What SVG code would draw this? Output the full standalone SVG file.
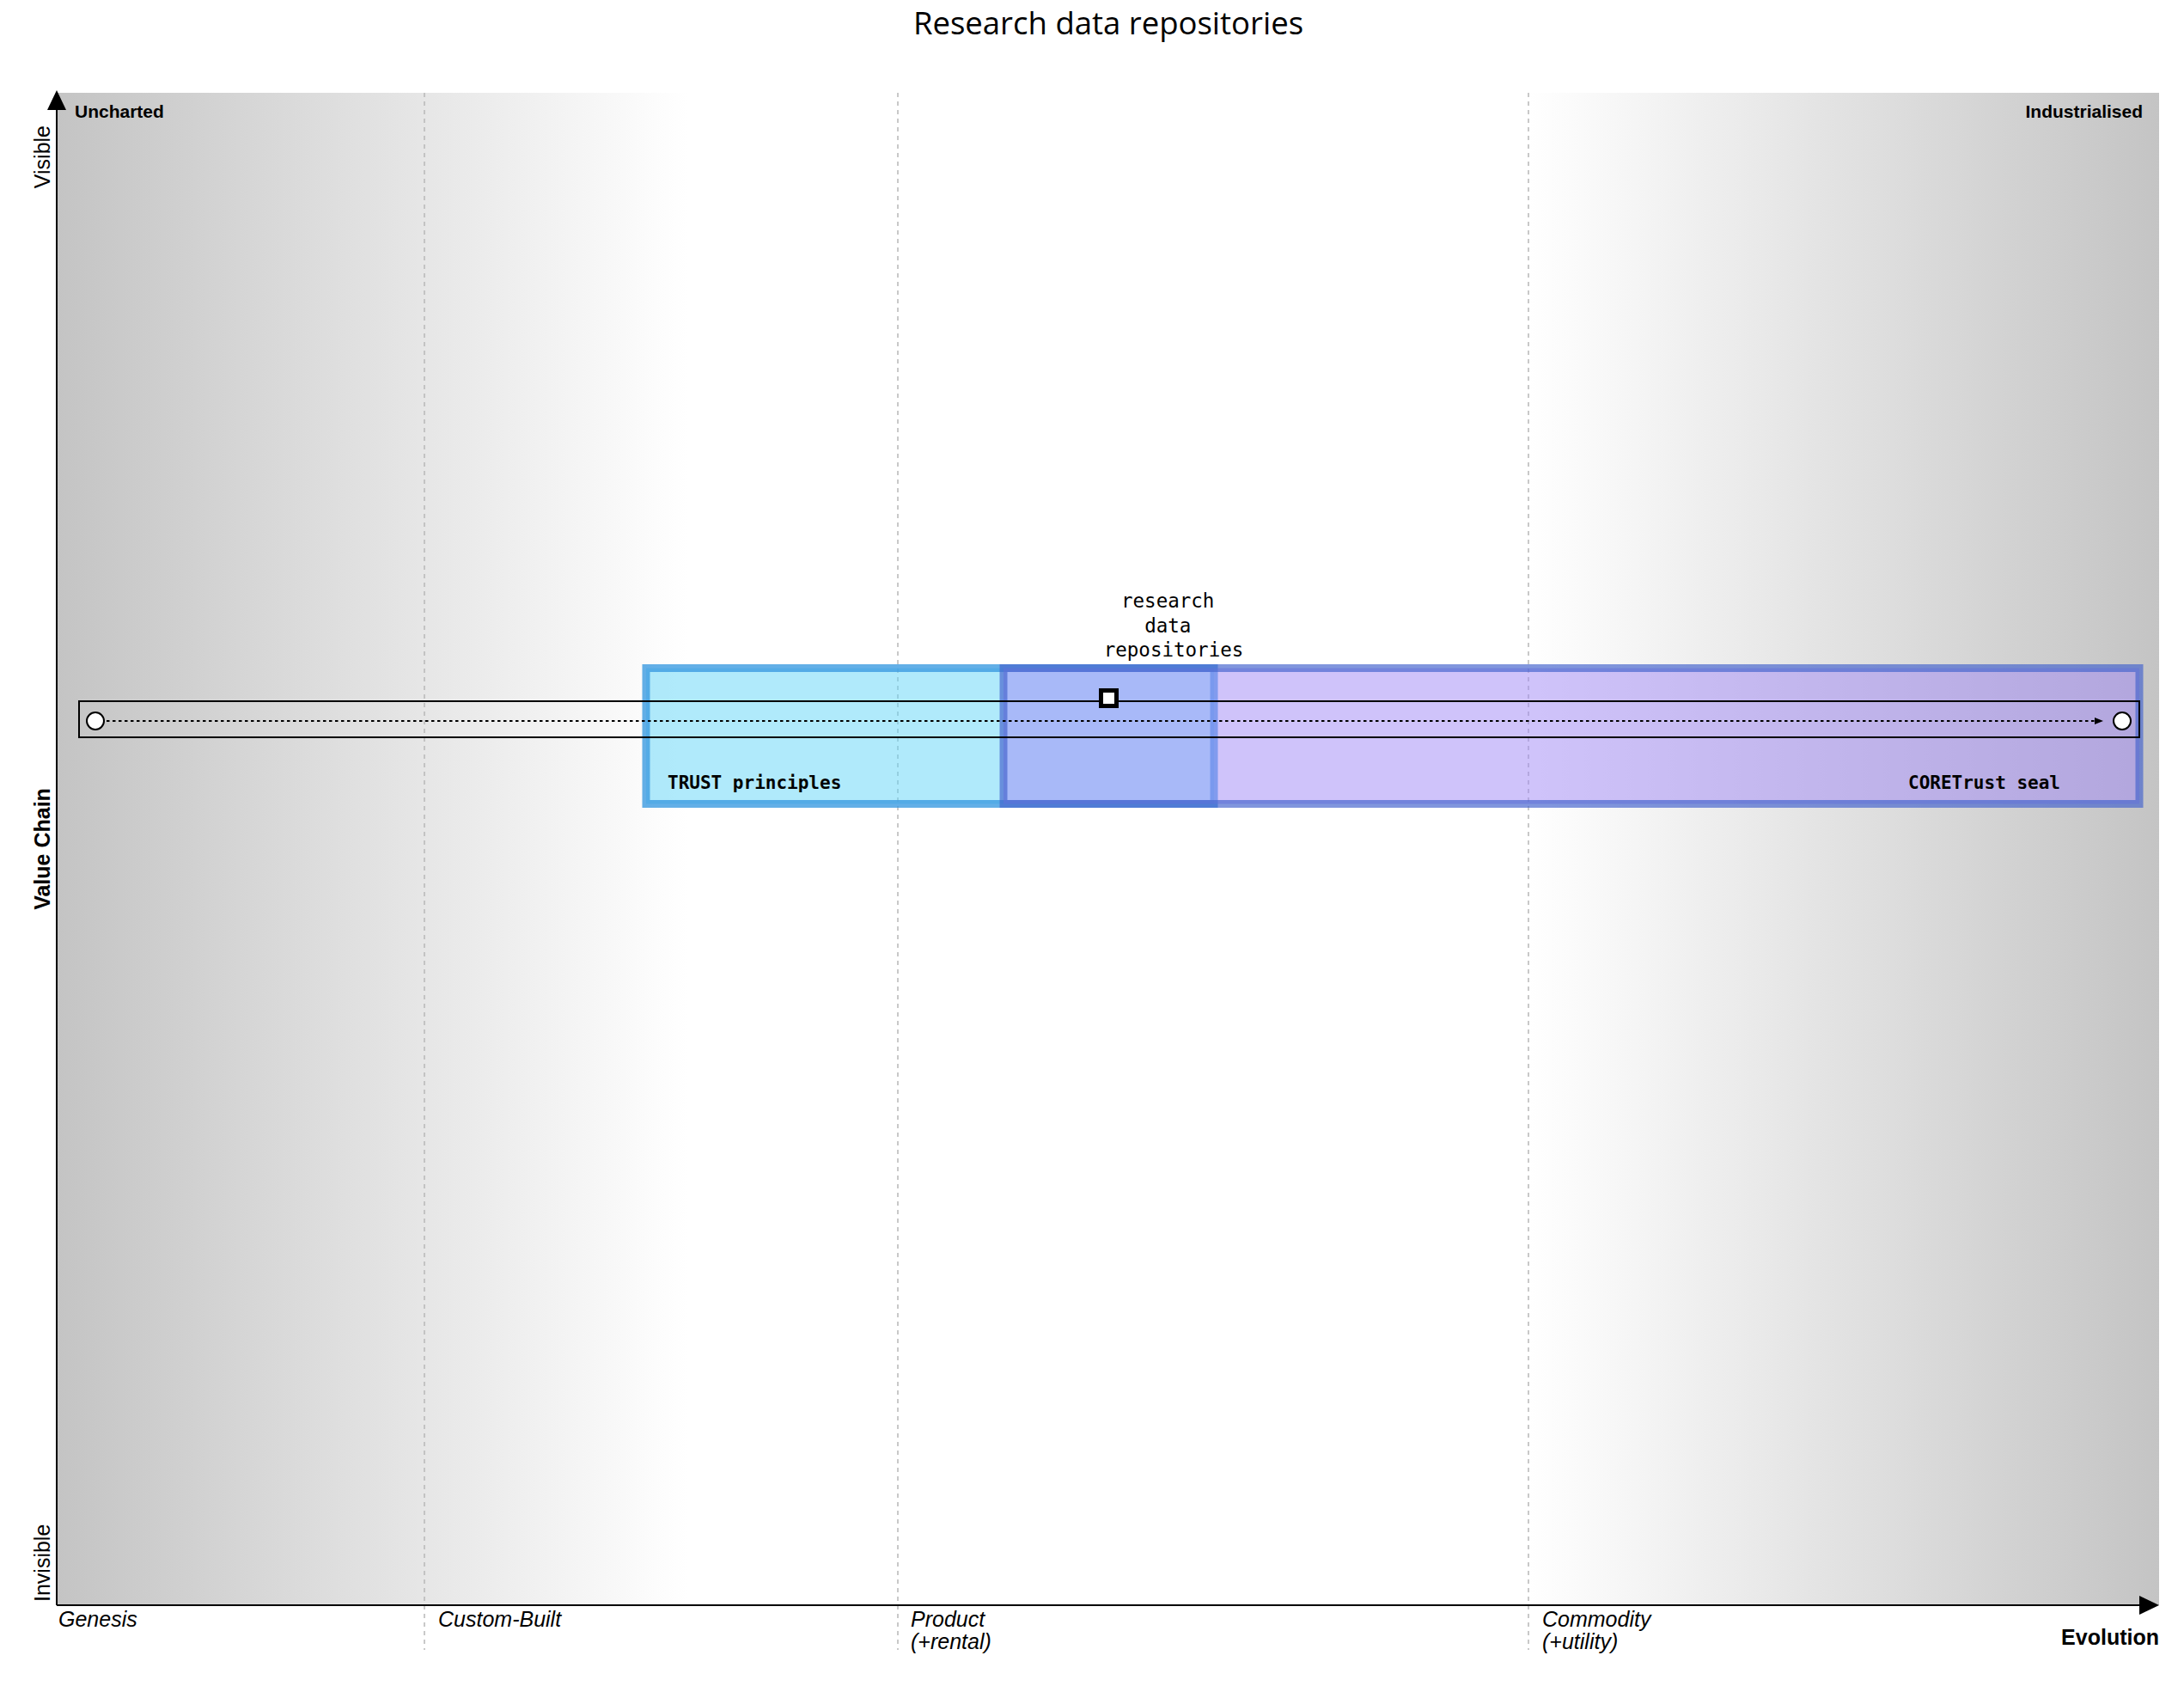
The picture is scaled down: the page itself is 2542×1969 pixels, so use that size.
<svg xmlns="http://www.w3.org/2000/svg" width="2542" height="1969" viewBox="0 0 2542 1969">
<defs>
  <linearGradient id="wardleyGradient" x1="0" y1="0" x2="1" y2="0">
    <stop offset="0" stop-color="rgb(196,196,196)"/>
    <stop offset="0.3" stop-color="#ffffff"/>
    <stop offset="0.7" stop-color="#ffffff"/>
    <stop offset="1" stop-color="rgb(196,196,196)"/>
  </linearGradient>
  <marker id="arrowSmall" markerUnits="userSpaceOnUse" markerWidth="10" markerHeight="8" refX="10" refY="4" orient="auto">
    <path d="M0,0 L10,4 L0,8 z" fill="#000"/>
  </marker>
</defs>
<style>
  .title { font-family: "Open Sans", "Noto Sans", sans-serif; font-size: 36.5px; fill: #000; }
  .axisLbl { font-family: "Liberation Sans", Arial, sans-serif; font-size: 25px; fill: #000; }
  .axisBold { font-family: "Liberation Sans", Arial, sans-serif; font-size: 25px; font-weight: bold; fill: #000; }
  .corner { font-family: "Liberation Sans", Arial, sans-serif; font-size: 21px; font-weight: bold; fill: #000; }
  .evo { font-family: "Liberation Sans", Arial, sans-serif; font-size: 25px; font-style: italic; fill: #000; }
  .grid { stroke: #b8b8b8; stroke-width: 1.5; stroke-dasharray: 5 5; fill: none; }
  .axis { stroke: #000; stroke-width: 2; fill: none; }
  .mono { font-family: "DejaVu Sans Mono", "Liberation Mono", monospace; font-size: 22.5px; fill: #000; }
  .monoBold { font-family: "DejaVu Sans Mono", "Liberation Mono", monospace; font-size: 21px; font-weight: bold; fill: #000; }
  .pipe { fill: none; stroke: #000; stroke-width: 2; }
  .anchorCircle { fill: #fff; stroke: #000; stroke-width: 2; }
  .comp { fill: #fff; stroke: #000; stroke-width: 5; }
  .flow { stroke: #000; stroke-width: 2; stroke-dasharray: 3.5 3.5; fill: none; }
</style>

<!-- background -->
<rect x="66" y="108" width="2447" height="1760" fill="url(#wardleyGradient)"/>

<!-- grid lines -->
<g id="grid">
  <line class="grid" x1="494" y1="108" x2="494" y2="1920"/>
  <line class="grid" x1="1045" y1="108" x2="1045" y2="1920"/>
  <line class="grid" x1="1779" y1="108" x2="1779" y2="1920"/>
</g>

<!-- axes -->
<g id="axes">
  <line class="axis" x1="66" y1="1868" x2="66" y2="126"/>
  <path d="M55,128 L66,105 L77,128 z" fill="#000"/>
  <line class="axis" x1="66" y1="1868" x2="2492" y2="1868"/>
  <path d="M2490,1857 L2513,1868 L2490,1879 z" fill="#000"/>
</g>

<text class="title" x="1290" y="40" text-anchor="middle">Research data repositories</text>

<text class="corner" x="87" y="137">Uncharted</text>
<text class="corner" x="2494" y="137" text-anchor="end">Industrialised</text>

<text class="axisLbl" transform="translate(58,146) rotate(-90)" text-anchor="end">Visible</text>
<text class="axisLbl" transform="translate(58,1864) rotate(-90)">Invisible</text>
<text class="axisBold" transform="translate(58,988) rotate(-90)" text-anchor="middle">Value Chain</text>

<text class="evo" x="68" y="1893">Genesis</text>
<text class="evo" x="510" y="1893">Custom-Built</text>
<text class="evo" x="1060" y="1893">Product</text>
<text class="evo" x="1060" y="1919">(+rental)</text>
<text class="evo" x="1795" y="1893">Commodity</text>
<text class="evo" x="1795" y="1919">(+utility)</text>
<text class="axisBold" x="2513" y="1914" text-anchor="end">Evolution</text>

<!-- evolution areas -->
<g id="node-trust-principles">
  <rect x="752" y="777.5" width="661" height="158" fill="rgba(97,213,247,0.5)" stroke="rgba(60,155,225,0.8)" stroke-width="9"/>
  <text class="monoBold" x="777" y="918">TRUST principles</text>
</g>
<g id="node-coretrust-seal">
  <rect x="1168" y="777.5" width="1322" height="158" fill="rgba(160,135,245,0.5)" stroke="rgba(70,100,205,0.68)" stroke-width="9"/>
  <text class="monoBold" x="2221" y="918">CORETrust seal</text>
</g>

<!-- pipeline -->
<g id="pipeline-research-data-repositories">
  <rect class="pipe" x="92" y="816" width="2398" height="42"/>
  <circle class="anchorCircle" cx="111" cy="839" r="10"/>
  <circle class="anchorCircle" cx="2470" cy="839" r="10"/>
</g>

<g id="connectors">
  <line class="flow" x1="124" y1="839" x2="2448" y2="839" marker-end="url(#arrowSmall)"/>
</g>

<g id="node-research-data-repositories">
  <rect class="comp" x="1281.5" y="803.5" width="18" height="18"/>
  <text class="mono" text-anchor="middle">
    <tspan x="1366" y="707">research</tspan>
    <tspan x="1366" y="736">data</tspan>
    <tspan x="1366" y="764">repositories</tspan>
  </text>
</g>
</svg>
